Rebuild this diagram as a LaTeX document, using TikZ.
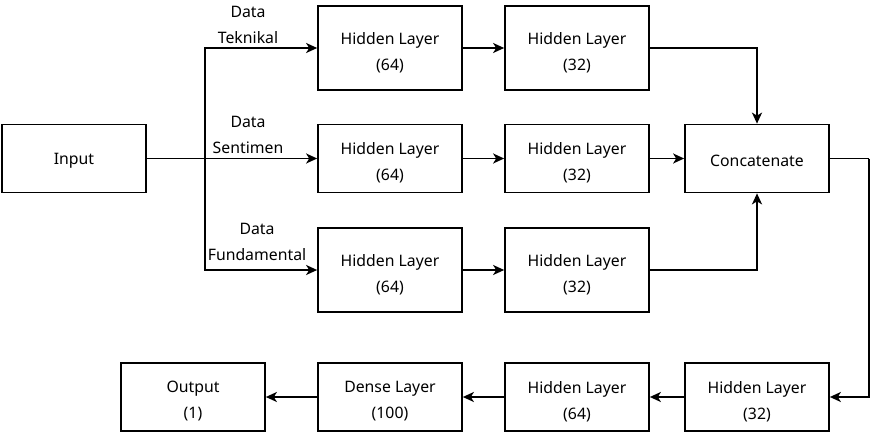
\documentclass[tikz,border=0pt]{standalone}
\usepackage{fontspec}
\setmainfont{Noto Sans}
\usetikzlibrary{arrows.meta}
\begin{document}
\begin{tikzpicture}[x=1pt,y=-1pt,
  font=\fontsize{15.8}{26}\selectfont,
  box/.style={draw,line width=1.7pt,minimum width=144pt,minimum height=68pt,inner sep=0pt,align=center},
  tall/.style={box,minimum height=84pt},
  two/.style={label={[txtlab,yshift=-4.5pt]center:{#1}}},
  one/.style={label={[txtlab,yshift=-2pt]center:{#1}}},
  txtlab/.style={align=center,inner sep=0pt,font=\fontsize{15.8}{26}\selectfont},
  arr/.style={line width=1.7pt,-{Stealth[length=11pt,width=10pt,inset=3pt]}},
  ln/.style={line width=1.7pt},
  lbl/.style={align=center,inner sep=1pt}]
\useasboundingbox (0,0) rectangle (879,436);
% nodes
\node[box,one={Input}] (in) at (74,158.5) {};
\node[tall,two={Hidden Layer\\(64)}] (h11) at (390,48) {};
\node[tall,two={Hidden Layer\\(32)}] (h12) at (577,48) {};
\node[box,two={Hidden Layer\\(64)}] (h21) at (390,158.5) {};
\node[box,two={Hidden Layer\\(32)}] (h22) at (577,158.5) {};
\node[tall,two={Hidden Layer\\(64)}] (h31) at (390,270) {};
\node[tall,two={Hidden Layer\\(32)}] (h32) at (577,270) {};
\node[box,one={Concatenate}] (cc) at (757,158.5) {};
\node[box,two={Hidden Layer\\(32)}] (b4) at (757,397) {};
\node[box,two={Hidden Layer\\(64)}] (b3) at (577,397) {};
\node[box,two={Dense Layer\\(100)}] (b2) at (390,397) {};
\node[box,two={Output\\(1)}] (b1) at (193,397) {};
% labels
\node[lbl] (l1) at (248,24.5) {Data\\Teknikal};
\node[lbl] (l2) at (248,134.5) {Data\\Sentimen};
\node[lbl] (l3) at (257,242) {Data\\Fundamental};
% connectors
\coordinate (br) at (205,158.5);
\draw[arr] (in.east) -- (h21.west);
\draw[arr] (br) |- (h11.west);
\draw[arr] (br) |- (h31.west);
\draw[arr] (h11) -- (h12);
\draw[arr] (h21) -- (h22);
\draw[arr] (h31) -- (h32);
\draw[arr] (h12.east) -| (cc.north);
\draw[arr] (h22) -- (cc);
\draw[arr] (h32.east) -| (cc.south);
\coordinate (cr) at (869,158.5);
\draw[ln] (cc.east) -- (cr);
\draw[arr] (cr) |- (b4.east);
\draw[arr] (b4) -- (b3);
\draw[arr] (b3) -- (b2);
\draw[arr] (b2) -- (b1);
\end{tikzpicture}
\end{document}
